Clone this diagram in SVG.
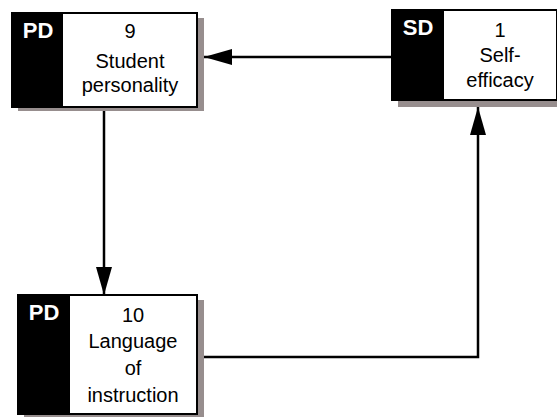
<svg xmlns="http://www.w3.org/2000/svg" width="557" height="417" viewBox="0 0 557 417">
  <style>
    .shadow { fill: #978e8e; }
    .box { fill: #ffffff; stroke: #000000; stroke-width: 2; }
    .tag { fill: #000000; }
    .tagtext { font-family: "Liberation Sans", Arial, sans-serif; font-size: 22px; font-weight: bold; fill: #ffffff; text-anchor: middle; }
    .label { font-family: "Liberation Sans", Arial, sans-serif; font-size: 20px; fill: #000000; text-anchor: middle; }
    .wire { fill: none; stroke: #000000; stroke-width: 2.5; }
  </style>
  <defs>
    <marker id="arrow" viewBox="0 0 28 16" refX="28" refY="8" markerWidth="28" markerHeight="16" markerUnits="userSpaceOnUse" orient="auto">
      <path d="M0,0 L28,8 L0,16 Z" fill="#000000"/>
    </marker>
  </defs>

  <g id="connectors">
    <!-- Self-efficacy -> Student personality -->
    <path class="wire" d="M392,57 L204,57" marker-end="url(#arrow)"/>
    <!-- Student personality -> Language of instruction -->
    <path class="wire" d="M104,110 L104,295" marker-end="url(#arrow)"/>
    <!-- Language of instruction -> Self-efficacy -->
    <path class="wire" d="M204,357 L478,357 L478,107" marker-end="url(#arrow)"/>
  </g>

  <g id="node-student-personality">
    <rect class="shadow" x="18" y="18" width="186" height="93"/>
    <rect class="box" x="12" y="13" width="185" height="94"/>
    <rect class="tag" x="12" y="13" width="51" height="94"/>
    <text class="tagtext" x="38" y="38">PD</text>
    <text class="label" x="130" y="38">9</text>
    <text class="label" x="130" y="68">Student</text>
    <text class="label" x="130" y="92">personality</text>
  </g>

  <g id="node-self-efficacy">
    <rect class="shadow" x="398" y="15" width="165" height="92"/>
    <rect class="box" x="392" y="10" width="165" height="90"/>
    <rect class="tag" x="392" y="10" width="52" height="90"/>
    <text class="tagtext" x="418" y="35">SD</text>
    <text class="label" x="500" y="37">1</text>
    <text class="label" x="500" y="62">Self-</text>
    <text class="label" x="500" y="87">efficacy</text>
  </g>

  <g id="node-language-of-instruction">
    <rect class="shadow" x="24" y="300" width="180" height="120"/>
    <rect class="box" x="18" y="295" width="179" height="119"/>
    <rect class="tag" x="18" y="295" width="52" height="119"/>
    <text class="tagtext" x="44" y="320">PD</text>
    <text class="label" x="133" y="322">10</text>
    <text class="label" x="133" y="348">Language</text>
    <text class="label" x="133" y="375">of</text>
    <text class="label" x="133" y="402">instruction</text>
  </g>
</svg>
